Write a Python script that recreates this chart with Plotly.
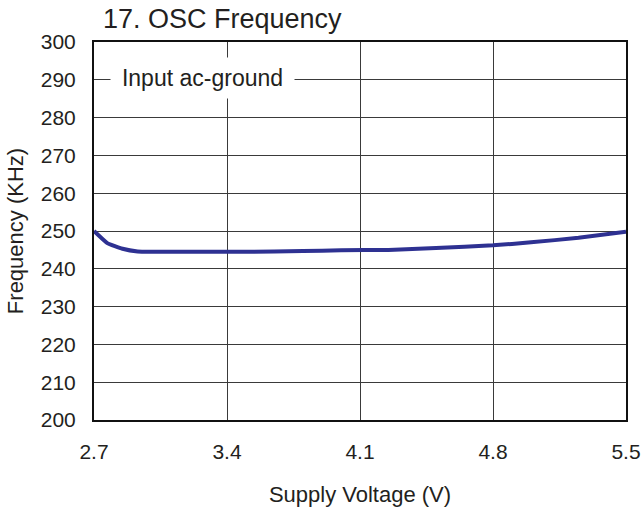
import plotly.graph_objects as go

voltage = [2.7, 2.77, 2.85, 2.93, 3.2, 3.5, 3.8, 4.0, 4.25, 4.5, 4.8, 5.0, 5.25, 5.5]
frequency = [250.0, 246.8, 245.3, 244.6, 244.5, 244.5, 244.7, 244.9, 245.0, 245.5, 246.2, 247.0, 248.2, 249.8]
x_ticks = [2.7, 3.4, 4.1, 4.8, 5.5]
y_ticks = list(range(200, 301, 10))

font = "Liberation Sans, Arial, sans-serif"
txt = "#231f20"

fig = go.Figure()
fig.add_trace(go.Scatter(x=voltage, y=frequency, mode="lines",
                         line=dict(color="#2E3192", width=4, shape="spline", smoothing=0.4),
                         showlegend=False, hoverinfo="skip"))

fig.update_layout(
    width=641, height=509,
    margin=dict(l=94, r=15, t=42, b=89, autoexpand=False),
    paper_bgcolor="white", plot_bgcolor="white",
    font=dict(family=font, size=21, color=txt),
    title=dict(text="17. OSC Frequency", x=103/641, xanchor="left", y=1-19/509, yanchor="middle",
               font=dict(family=font, size=27, color=txt)),
    xaxis=dict(range=[2.7, 5.5], tickvals=x_ticks, ticktext=[f"{v:.1f}" for v in x_ticks],
               showgrid=True, gridcolor="#3a3a3a", gridwidth=1,
               showline=True, linecolor="#111111", linewidth=2, mirror=True,
               ticks="", ticklabelstandoff=12, zeroline=False,
               tickfont=dict(size=21),
               title=dict(text="Supply Voltage (V)", standoff=24, font=dict(size=22))),
    yaxis=dict(range=[200, 300], tickvals=y_ticks,
               showgrid=True, gridcolor="#3a3a3a", gridwidth=1,
               showline=True, linecolor="#111111", linewidth=2, mirror=True,
               ticks="", ticklabelstandoff=12, zeroline=False,
               tickfont=dict(size=21),
               title=dict(text="Frequency (KHz)", standoff=11, font=dict(size=22))),
)

fig.add_annotation(text="Input ac-ground", xref="paper", yref="y", x=16/533, y=290,
                   xanchor="left", yanchor="middle", showarrow=False, yshift=2,
                   width=183, height=40, borderpad=0, align="center",
                   bgcolor="white", font=dict(family=font, size=23, color=txt))

fig.write_html("out.html", config={"displayModeBar": False, "staticPlot": True},
               post_script="document.body.style.margin='0';document.body.style.padding='0';")
